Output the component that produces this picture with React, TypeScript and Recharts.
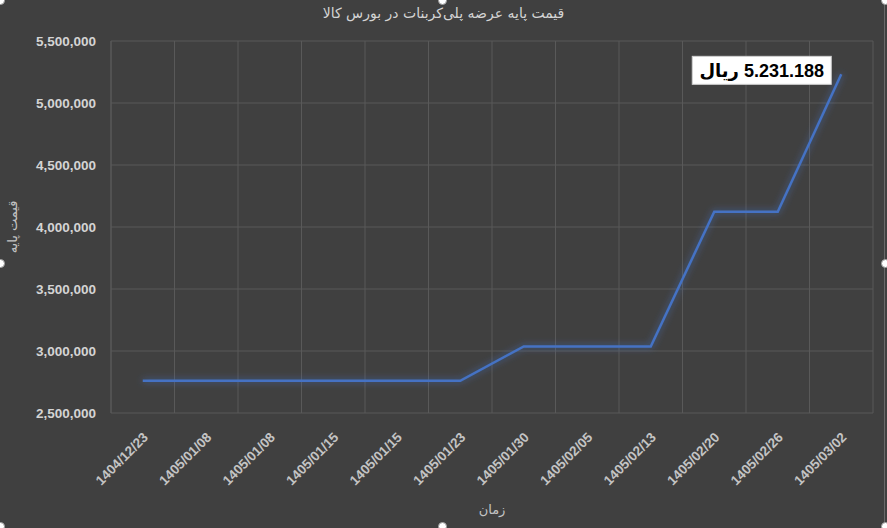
import { LineChart, Line, XAxis, YAxis, CartesianGrid, LabelList, Label } from 'recharts'

const dates = [
  '1404/12/23', '1405/01/08', '1405/01/08', '1405/01/15', '1405/01/15', '1405/01/23',
  '1405/01/30', '1405/02/05', '1405/02/13', '1405/02/20', '1405/02/26', '1405/03/02',
]
const prices = [
  2760000, 2760000, 2760000, 2760000, 2760000, 2760000,
  3037000, 3037000, 3037000, 4123000, 4123000, 5231188,
]
const yTicks = [2500000, 3000000, 3500000, 4000000, 4500000, 5000000, 5500000]

const title = 'قیمت پایه عرضه پلی‌کربنات در بورس کالا'
const yTitle = 'قیمت پایه'
const xTitle = 'زمان'
const lastTag = '5.231.188 ریال'

const data = dates.map((date, i) => ({ idx: i, date, price: prices[i] }))

const W = 887
const H = 528
const BG = '#404040'
const GRID = '#595959'
const TEXT = '#d4d4d4'
const TICK_FONT = "'Liberation Sans', Arial, sans-serif"

function DateTick({ x, y, payload }: any) {
  return (
    <text
      x={x + 3}
      y={y + 20}
      transform={`rotate(-45 ${x + 3} ${y + 20})`}
      textAnchor="end"
      dominantBaseline="central"
      fill="#c4c4c4"
      fontFamily={TICK_FONT}
      fontWeight={700}
      fontSize={13.5}
    >
      {dates[payload.value]}
    </text>
  )
}

function PriceTag(props: any) {
  const { x, y, index } = props
  if (index !== prices.length - 1) return null
  const w = 139
  const h = 28
  const left = x - 149
  const top = y - 18
  return (
    <g>
      <rect x={left} y={top} width={w} height={h} fill="#ffffff" stroke="#d0d0d0" strokeWidth={1} />
      <text
        x={left + w / 2}
        y={top + h / 2 + 1}
        textAnchor="middle"
        dominantBaseline="central"
        direction="rtl"
        fill="#000000"
        fontFamily="'Liberation Sans', 'DejaVu Sans', sans-serif"
        fontWeight={700}
        fontSize={18}
      >
        {lastTag}
      </text>
    </g>
  )
}

const handles = [
  [0, 0], [442, 0], [885, 0],
  [0, 263], [885, 263],
  [0, 526], [442, 526], [885, 526],
]

export default function App() {
  return (
    <div style={{ position: 'absolute', left: 0, top: 0, width: W, height: H, background: BG, overflow: 'hidden' }}>
      <style>{`.recharts-line-curve { filter: url(#glow); }`}</style>
      <svg width={0} height={0} style={{ position: 'absolute' }}>
        <defs>
          <filter id="glow" filterUnits="userSpaceOnUse" x={0} y={0} width={W} height={H}>
            <feGaussianBlur in="SourceGraphic" stdDeviation={3.5} result="blur" />
            <feComponentTransfer in="blur" result="soft">
              <feFuncA type="linear" slope={0.8} />
            </feComponentTransfer>
            <feMerge>
              <feMergeNode in="soft" />
              <feMergeNode in="SourceGraphic" />
            </feMerge>
          </filter>
        </defs>
      </svg>
      <div
        style={{
          position: 'absolute', left: 0, top: 5, width: W, textAlign: 'center',
          color: TEXT, fontFamily: "'DejaVu Sans', sans-serif", fontSize: 14, direction: 'rtl',
        }}
      >
        {title}
      </div>
      <LineChart width={W} height={H} data={data} margin={{ top: 41, right: 14, bottom: 0, left: 0 }}>
        <CartesianGrid
          stroke={GRID}
          strokeWidth={1}
          verticalCoordinatesGenerator={({ offset }: any) =>
            dates.map((_, i) => offset.left + (i * offset.width) / dates.length).concat(offset.left + offset.width)
          }
        />
        <XAxis
          dataKey="idx"
          type="category"
          interval={0}
          padding={{ left: 31.75, right: 31.75 }}
          axisLine={false}
          tickLine={false}
          tickSize={0}
          tick={<DateTick />}
          height={115}
        >
          <Label
            value={xTitle}
            position="insideBottom"
            offset={14}
            fill="#c4c4c4"
            fontFamily="'DejaVu Sans', sans-serif"
            fontSize={13}
          />
        </XAxis>
        <YAxis
          width={111}
          domain={[2500000, 5500000]}
          ticks={yTicks}
          axisLine={{ stroke: GRID }}
          tickLine={false}
          tickSize={0}
          tickMargin={15}
          tickFormatter={(v: number) => v.toLocaleString('en-US')}
          tick={{ fill: TEXT, fontFamily: TICK_FONT, fontWeight: 700, fontSize: 13.5 }}
        >
          <Label
            value={yTitle}
            angle={-90}
            position="insideLeft"
            offset={12}
            fill="#c4c4c4"
            fontFamily="'DejaVu Sans', sans-serif"
            fontSize={13}
            style={{ textAnchor: 'middle' }}
          />
        </YAxis>
        <Line
          type="linear"
          dataKey="price"
          stroke="#4472c4"
          strokeWidth={2.5}
          dot={false}
          activeDot={false}
          isAnimationActive={false}
        >
          <LabelList dataKey="price" content={<PriceTag />} />
        </Line>
      </LineChart>
      <div style={{ position: 'absolute', left: 884, top: 0, width: 1, height: 526, background: '#6a6a6a' }} />
      {handles.map(([hx, hy], i) => (
        <div
          key={i}
          style={{
            position: 'absolute', left: hx - 4, top: hy - 4, width: 7, height: 7,
            borderRadius: '50%', background: '#ffffff', border: '1px solid #9a9a9a',
          }}
        />
      ))}
    </div>
  )
}
